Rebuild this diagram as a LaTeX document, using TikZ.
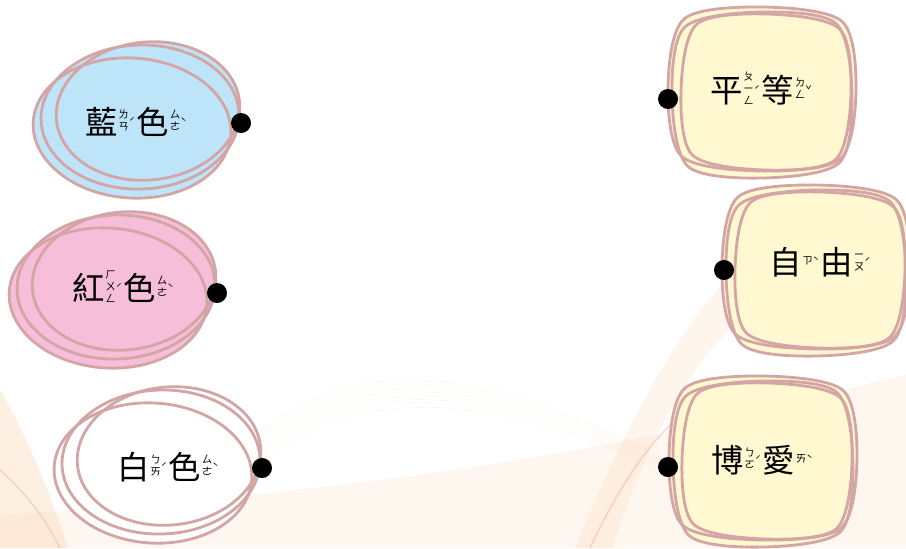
\documentclass[tikz,border=0pt]{standalone}
\usepackage{fontspec}
\usepackage{xcolor}
\usepackage{tikz}
\usetikzlibrary{calc}
\newfontfamily\cjk{Noto Sans CJK TC}

\definecolor{outline}{RGB}{212,165,165}
\definecolor{bluefill}{RGB}{190,228,250}
\definecolor{pinkfill}{RGB}{246,190,216}
\definecolor{yellowfill}{RGB}{255,248,208}
\definecolor{waveorange}{RGB}{250,205,160}
\definecolor{wavepink}{RGB}{245,155,150}

% character with its zhuyin column and tone mark
\newcommand{\zy}[3]{#1\hspace{0.5pt}%
  \raisebox{\dimexpr 9pt-0.5\height+0.5\depth\relax}{\fontsize{7.5}{8.5}\selectfont\begin{tabular}[b]{@{}c@{}}#2\end{tabular}}%
  \raisebox{\dimexpr 9pt-0.5\height+0.5\depth\relax}{\fontsize{7.5}{8.5}\selectfont #3}\hspace{1pt}}

\begin{document}
\begin{tikzpicture}
    [x={(0.025cm,0)},y={(0,-0.025cm)},line join=round,
     word/.style={font=\cjk\fontsize{23}{26}\selectfont,inner sep=0pt},
     dot/.style={circle,fill=black,minimum size=0.5cm,inner sep=0pt}]

    \fill[white] (0,0) rectangle (906,548);
    \useasboundingbox (0,0) rectangle (906,548);

    % background waves
    \fill[waveorange,opacity=0.3] (0,390) .. controls (30,440) and (52,500) .. (68,548) -- (0,548) -- cycle;
    \draw[wavepink,opacity=0.4,line width=1pt] (0,470) .. controls (25,492) and (45,518) .. (60,548);
    \fill[waveorange,opacity=0.15] (0,515) .. controls (250,500) and (500,470) .. (700,425) .. controls (800,400) and (860,385) .. (906,375) -- (906,548) -- (0,548) -- cycle;
    \fill[waveorange,opacity=0.2] (575,548) .. controls (620,440) and (670,340) .. (728,278) -- (728,330) .. controls (680,380) and (640,460) .. (612,548) -- cycle;
    \draw[wavepink,opacity=0.4,line width=1pt] (590,548) .. controls (615,495) and (640,455) .. (670,425);
    \foreach \k in {0,...,7}
      \draw[waveorange,opacity=0.2,line width=0.3pt] (250,{470-4*\k}) .. controls (350,{380-5*\k}) and (500,{390-3*\k}) .. (680,{480-2*\k});

    % left blobs
    \foreach \cx/\cy/\col in {140/120/bluefill, 116/290/pinkfill, 161/465/white} {
      \begin{scope}[shift={(\cx,\cy)}]
        \foreach \ex/\ey/\rx/\ry/\rot in {-8/8/99/70/-4, 0/-3/99/72/2, 8/-9/92/69/6}
          \fill[\col,rotate around={\rot:(\ex,\ey)}] (\ex,\ey) ellipse [x radius=\rx,y radius=\ry];
        \foreach \ex/\ey/\rx/\ry/\rot in {-8/8/99/70/-4, 0/-3/99/72/2, 8/-9/92/69/6}
          \draw[outline,line width=2pt,rotate around={\rot:(\ex,\ey)}] (\ex,\ey) ellipse [x radius=\rx,y radius=\ry];
      \end{scope}
    }

    % right rounded squares
    \foreach \cx/\cy in {764/92, 818/270, 765/461} {
      \begin{scope}[shift={(\cx,\cy)}]
        \foreach \sx/\sy/\a/\b/\rot in {-2/-3/94/82/-1, -2/3/90/83/1.5, 2/0/85/78/-2}
          \fill[yellowfill,shift={(\sx,\sy)},rotate=\rot] plot[smooth cycle] coordinates
            {(\a,0) ({0.84*\a},{0.84*\b}) (0,\b) ({-0.84*\a},{0.84*\b}) (-\a,0) ({-0.84*\a},{-0.84*\b}) (0,-\b) ({0.84*\a},{-0.84*\b})};
        \foreach \sx/\sy/\a/\b/\rot in {-2/-3/94/82/-1, -2/3/90/83/1.5, 2/0/85/78/-2}
          \draw[outline,line width=2pt,shift={(\sx,\sy)},rotate=\rot] plot[smooth cycle] coordinates
            {(\a,0) ({0.84*\a},{0.84*\b}) (0,\b) ({-0.84*\a},{0.84*\b}) (-\a,0) ({-0.84*\a},{-0.84*\b}) (0,-\b) ({0.84*\a},{-0.84*\b})};
      \end{scope}
    }

    % words
    \node[word] (blue) at (136,122) {\zy{藍}{ㄌ\\ㄢ}{ˊ}\zy{色}{ㄙ\\ㄜ}{ˋ}};
    \node[word] (red) at (123,288) {\zy{紅}{ㄏ\\ㄨ\\ㄥ}{ˊ}\zy{色}{ㄙ\\ㄜ}{ˋ}};
    \node[word] (white) at (168,467) {\zy{白}{ㄅ\\ㄞ}{ˊ}\zy{色}{ㄙ\\ㄜ}{ˋ}};
    \node[word] (equality) at (761,90) {\zy{平}{ㄆ\\ㄧ\\ㄥ}{ˊ}\zy{等}{ㄉ\\ㄥ}{ˇ}};
    \node[word] (liberty) at (820,262) {\zy{自}{ㄗ}{ˋ}\zy{由}{ㄧ\\ㄡ}{ˊ}};
    \node[word] (fraternity) at (762,460) {\zy{博}{ㄅ\\ㄛ}{ˊ}\zy{愛}{ㄞ}{ˋ}};

    % dots
    \node[dot] (blueDot) at (241,123) {};
    \node[dot] (redDot) at (217,293) {};
    \node[dot] (whiteDot) at (262,468) {};
    \node[dot] (equalityDot) at (668,99) {};
    \node[dot] (libertyDot) at (724,270) {};
    \node[dot] (fraternityDot) at (668,467) {};
\end{tikzpicture}
\end{document}
